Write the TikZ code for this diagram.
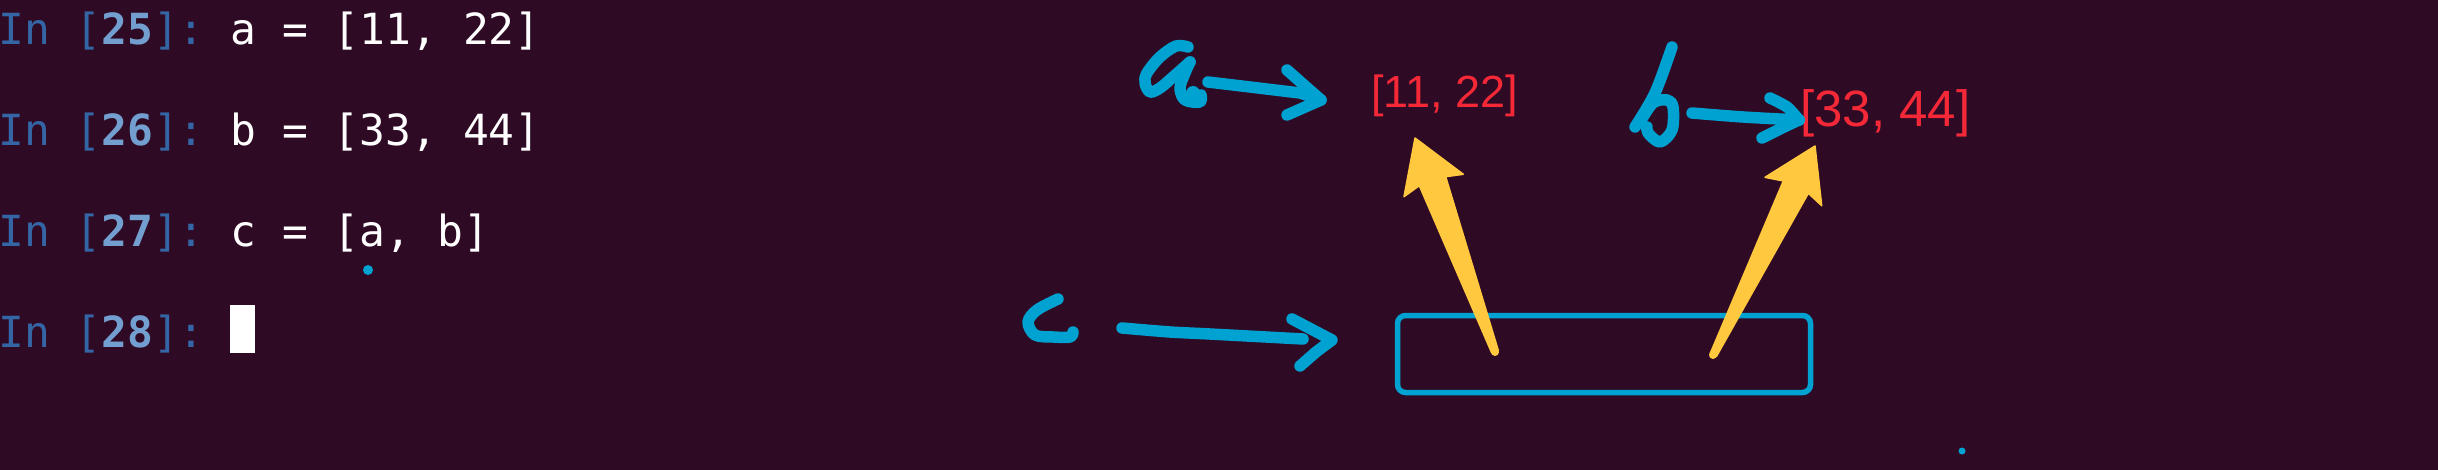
\documentclass[tikz,border=0pt]{standalone}
\usepackage{fontspec}
\newfontfamily\termfont{DejaVu Sans Mono}
\newfontfamily\listfont{Liberation Sans}
\definecolor{bg}{RGB}{47,10,36}
\definecolor{hand}{RGB}{0,162,210}
\definecolor{yel}{RGB}{255,200,62}
\definecolor{redtxt}{RGB}{245,40,55}
\definecolor{pblue}{RGB}{52,101,164}
\definecolor{nblue}{RGB}{114,159,207}
\definecolor{term}{RGB}{255,255,255}
\frenchspacing
\newcommand{\ipyprompt}[1]{\textcolor{pblue}{In [}\textcolor{nblue}{\bfseries #1}\textcolor{pblue}{]:}}
\tikzset{
  termline/.style={anchor=base west, inner sep=0pt, text=term, font=\termfont\fontsize{42.9}{50}\selectfont},
  listtext/.style={anchor=base west, inner sep=0pt, text=redtxt},
  handstroke/.style={draw=hand, line width=11.5pt, line cap=round, line join=round},
  yarrow/.style={fill=yel, draw=yel, line width=1.5pt, line join=round},
  dotmark/.style={circle, fill=hand, inner sep=0pt}
}
\begin{document}
\begin{tikzpicture}[x=1pt, y=-1pt]
\fill[bg] (0,0) rectangle (2438,470);
\useasboundingbox (0,0) rectangle (2438,470);

% terminal lines
\node[termline] (l1) at (-2,45) {\ipyprompt{25} a = [11, 22]};
\node[termline] (l2) at (-2,146) {\ipyprompt{26} b = [33, 44]};
\node[termline] (l3) at (-2,247) {\ipyprompt{27} c = [a, b]};
\node[termline] (l4) at (-2,347) {\ipyprompt{28}};
\node[fill=term, inner sep=0pt, minimum width=25pt, minimum height=48pt, anchor=north west] (cursor) at (230,305) {};

% dots
\node[dotmark, minimum size=10pt] (dot1) at (368,270) {};
\node[dotmark, minimum size=7pt] (dot2) at (1962,451) {};

% lists
\node[listtext, font=\listfont\fontsize{45}{50}\selectfont] (lista) at (1371,108) {[11, 22]};
\node[listtext, font=\listfont\fontsize{51}{56}\selectfont] (listb) at (1800,127) {[33, 44]};

% box for c
\node[draw=hand, line width=5.5pt, rounded corners=8pt, minimum width=413pt, minimum height=77pt, inner sep=0pt] (cbox) at (1604,354) {};

% handwritten a
\draw[handstroke] plot[smooth, tension=0.55] coordinates {(1188,47) (1176,46) (1160,57) (1147,73) (1145,83) (1150,92) (1160,88) (1173,77) (1190,62)};
\draw[handstroke] plot[smooth, tension=0.55] coordinates {(1190,62) (1185,73) (1180,88) (1185,100) (1200,102) (1201,95)};
\fill[hand] (1193,93) circle (7pt);
\coordinate (a-tail) at (1208,82);
\coordinate (a-tip) at (1321,100);
\draw[handstroke] (a-tail) -- (1300,93) -- (a-tip);
\draw[handstroke] (1287,70) -- (a-tip) -- (1287,115);

% handwritten b
\draw[handstroke] plot[smooth, tension=0.5] coordinates {(1672,47) (1655,93) (1635,127)};
\draw[handstroke] plot[smooth, tension=0.55] coordinates {(1640,122) (1653,103) (1667,100) (1673,107) (1672,130) (1660,142) (1648,133) (1647,127)};
\coordinate (b-tail) at (1692,113);
\coordinate (b-tip) at (1799,120);
\draw[handstroke] plot[smooth, tension=0.5] coordinates {(b-tail) (1743,117) (b-tip)};
\draw[handstroke] plot[smooth, tension=0.4] coordinates {(1770,98) (1787,107) (b-tip)};
\draw[handstroke] plot[smooth, tension=0.4] coordinates {(b-tip) (1782,128) (1762,138)};

% handwritten c
\draw[handstroke] plot[smooth, tension=0.55] coordinates {(1058,299) (1037,310) (1028,322) (1035,335) (1053,337) (1070,337) (1073,332)};
\coordinate (c-tail) at (1122,328);
\coordinate (c-tip) at (1332,340);
\draw[handstroke] plot[smooth, tension=0.4] coordinates {(c-tail) (1170,332) (1210,334) (1303,339)};
\draw[handstroke] (1292,319) -- (c-tip) -- (1316,352) -- (1300,366);

% yellow arrows from box to lists
\coordinate (ya-tail) at (1495,352);
\coordinate (ya-tip) at (1415,138);
\filldraw[yarrow] (1491.7,352.9) -- (1419.3,185.7) -- (1404,196.7) -- (ya-tip) -- (1463.3,174.3) -- (1445.7,176.7) -- (1498.3,350.5) -- cycle;
\fill[yel] (ya-tail) circle (4pt);
\coordinate (yb-tail) at (1713,355);
\coordinate (yb-tip) at (1815,146);
\filldraw[yarrow] (1710.2,353.5) -- (1783.3,181) -- (1765,177.3) -- (yb-tip) -- (1821.7,205.7) -- (1808.3,193.3) -- (1716.4,356.5) -- cycle;
\fill[yel] (yb-tail) circle (4pt);
\end{tikzpicture}
\end{document}
